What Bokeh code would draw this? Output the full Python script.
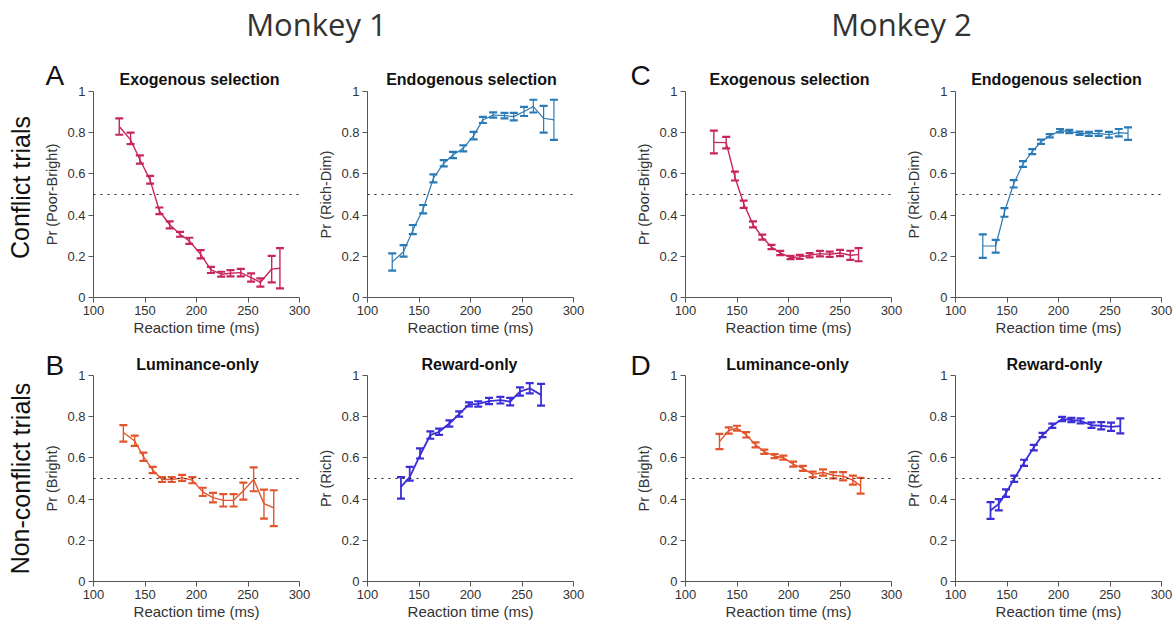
from bokeh.plotting import figure
from bokeh.models import Range1d, FixedTicker, Span, Label, Whisker, TeeHead, ColumnDataSource
from bokeh.layouts import column, row
from bokeh.embed import file_html
from bokeh.resources import INLINE

# ---------------- data ----------------
x_ticks = [100, 150, 200, 250, 300]
y_ticks = [0, 0.2, 0.4, 0.6, 0.8, 1]
y_tick_labels = ["0", "0.2", "0.4", "0.6", "0.8", "1"]
chance_level = 0.5

# Monkey 1, conflict, exogenous selection: Pr (Poor-Bright)
m1_exo_rt = [125, 136, 145, 155, 164, 174, 184, 193, 204, 214, 224, 233, 243, 253, 262, 273, 281]
m1_exo_pr = [0.83, 0.765, 0.67, 0.57, 0.42, 0.353, 0.307, 0.275, 0.21, 0.134, 0.113, 0.118, 0.121, 0.097, 0.073, 0.138, 0.142]
m1_exo_up = [0.87, 0.80, 0.69, 0.59, 0.437, 0.37, 0.319, 0.29, 0.23, 0.149, 0.125, 0.133, 0.139, 0.117, 0.093, 0.202, 0.24]
m1_exo_lo = [0.79, 0.745, 0.65, 0.553, 0.405, 0.336, 0.295, 0.26, 0.19, 0.119, 0.101, 0.103, 0.103, 0.077, 0.053, 0.073, 0.044]

# Monkey 1, conflict, endogenous selection: Pr (Rich-Dim)
m1_endo_rt = [124, 135, 144, 154, 164, 174, 183, 193, 203, 212, 222, 233, 242, 252, 261, 271, 281]
m1_endo_pr = [0.173, 0.222, 0.327, 0.428, 0.579, 0.652, 0.692, 0.724, 0.786, 0.862, 0.886, 0.883, 0.878, 0.903, 0.927, 0.87, 0.862]
m1_endo_up = [0.214, 0.254, 0.352, 0.449, 0.598, 0.667, 0.707, 0.739, 0.804, 0.877, 0.899, 0.896, 0.896, 0.925, 0.96, 0.93, 0.96]
m1_endo_lo = [0.13, 0.198, 0.308, 0.408, 0.559, 0.637, 0.677, 0.709, 0.768, 0.847, 0.873, 0.870, 0.860, 0.881, 0.898, 0.80, 0.765]

# Monkey 2, conflict, exogenous selection
m2_exo_rt = [127.5, 139.5, 148, 156.5, 165.5, 174.5, 183.5, 192, 202, 211, 220.5, 230.5, 240, 250, 260, 268]
m2_exo_pr = [0.753, 0.752, 0.584, 0.455, 0.355, 0.293, 0.245, 0.216, 0.194, 0.197, 0.205, 0.213, 0.21, 0.216, 0.205, 0.208]
m2_exo_up = [0.81, 0.78, 0.611, 0.47, 0.37, 0.305, 0.255, 0.226, 0.202, 0.207, 0.215, 0.226, 0.223, 0.231, 0.227, 0.24]
m2_exo_lo = [0.70, 0.724, 0.568, 0.435, 0.34, 0.281, 0.235, 0.206, 0.186, 0.187, 0.195, 0.2, 0.197, 0.201, 0.183, 0.176]

# Monkey 2, conflict, endogenous selection
m2_endo_rt = [126.5, 139, 147.5, 156.5, 165.5, 174.5, 183, 191.5, 201.5, 210.5, 220.5, 229.5, 239, 249, 258.5, 267.5]
m2_endo_pr = [0.25, 0.25, 0.415, 0.552, 0.648, 0.708, 0.756, 0.785, 0.81, 0.806, 0.797, 0.794, 0.797, 0.79, 0.80, 0.797]
m2_endo_up = [0.306, 0.28, 0.434, 0.570, 0.662, 0.72, 0.766, 0.793, 0.818, 0.814, 0.805, 0.804, 0.809, 0.804, 0.818, 0.826]
m2_endo_lo = [0.192, 0.218, 0.392, 0.534, 0.634, 0.696, 0.746, 0.777, 0.802, 0.798, 0.789, 0.784, 0.785, 0.776, 0.782, 0.765]

# Monkey 1, non-conflict, luminance-only: Pr (Bright)
m1_lum_rt = [129, 140, 148.5, 157.5, 166.5, 176, 186, 196, 206, 216, 226, 236, 245.5, 255.5, 265.5, 275]
m1_lum_pr = [0.723, 0.682, 0.606, 0.541, 0.495, 0.495, 0.503, 0.492, 0.435, 0.407, 0.394, 0.394, 0.44, 0.495, 0.378, 0.357]
m1_lum_up = [0.759, 0.708, 0.626, 0.556, 0.507, 0.507, 0.518, 0.507, 0.455, 0.43, 0.424, 0.424, 0.48, 0.554, 0.446, 0.443]
m1_lum_lo = [0.679, 0.658, 0.586, 0.526, 0.483, 0.483, 0.488, 0.477, 0.415, 0.384, 0.364, 0.364, 0.397, 0.438, 0.305, 0.269]

# Monkey 1, non-conflict, reward-only: Pr (Rich)
m1_rew_rt = [132.5, 141, 151, 161, 169.5, 179.5, 189, 198.5, 207.5, 218, 229, 238.5, 248, 257.5, 268.5]
m1_rew_pr = [0.459, 0.507, 0.613, 0.711, 0.727, 0.767, 0.813, 0.86, 0.862, 0.876, 0.88, 0.873, 0.922, 0.938, 0.906]
m1_rew_up = [0.507, 0.556, 0.646, 0.729, 0.742, 0.782, 0.826, 0.87, 0.875, 0.891, 0.896, 0.891, 0.942, 0.963, 0.959]
m1_rew_lo = [0.402, 0.49, 0.597, 0.693, 0.712, 0.752, 0.80, 0.85, 0.849, 0.861, 0.864, 0.855, 0.902, 0.913, 0.854]

# Monkey 2, non-conflict, luminance-only
m2_lum_rt = [133, 142, 150, 159, 168, 176.5, 186.5, 195, 204.5, 214, 223.5, 233.5, 243.5, 253, 262.5, 270]
m2_lum_pr = [0.679, 0.733, 0.744, 0.712, 0.663, 0.63, 0.609, 0.601, 0.57, 0.549, 0.52, 0.529, 0.516, 0.511, 0.492, 0.464]
m2_lum_up = [0.717, 0.748, 0.756, 0.725, 0.675, 0.64, 0.619, 0.611, 0.582, 0.561, 0.533, 0.544, 0.531, 0.531, 0.514, 0.503]
m2_lum_lo = [0.643, 0.718, 0.732, 0.699, 0.651, 0.62, 0.599, 0.591, 0.558, 0.537, 0.507, 0.514, 0.501, 0.491, 0.47, 0.427]

# Monkey 2, non-conflict, reward-only
m2_rew_rt = [134, 142, 149, 157, 166.5, 176, 184.5, 194, 203.5, 212.5, 221.5, 232, 241.5, 251, 260]
m2_rew_pr = [0.345, 0.377, 0.429, 0.499, 0.576, 0.65, 0.711, 0.756, 0.789, 0.784, 0.78, 0.759, 0.756, 0.751, 0.754]
m2_rew_up = [0.385, 0.40, 0.447, 0.514, 0.591, 0.663, 0.721, 0.766, 0.799, 0.794, 0.792, 0.772, 0.774, 0.771, 0.792]
m2_rew_lo = [0.304, 0.345, 0.411, 0.484, 0.561, 0.637, 0.701, 0.746, 0.779, 0.774, 0.768, 0.746, 0.738, 0.731, 0.719]

monkey_titles = ["Monkey 1", "Monkey 2"]
row_titles = ["Conflict trials", "Non-conflict trials"]
top_titles = ["Exogenous selection", "Endogenous selection", "Exogenous selection", "Endogenous selection"]
bottom_titles = ["Luminance-only", "Reward-only", "Luminance-only", "Reward-only"]
letters_top = ["A", "C"]
letters_bottom = ["B", "D"]

# ---------------- style / layout geometry (page pixels) ----------------
FONT = "Liberation Sans"
C_EXO = "#C8255E"
C_ENDO = "#2A7AB6"
C_LUM = "#E2552C"
C_REW = "#3A2ED6"
AXIS_C = "#555555"
TEXT_C = "#333333"
INK = "#111111"
FRAME = 206
PAGE_W, PAGE_H = 1174, 623
FRAME_X = [93, 365, 683, 950]     # left edge of each plot frame
LETTER_X = [45, 630]              # left edge of the panel letters
ROW1_TOP, ROW1_BOT = 91, 42
ROW2_TOP, ROW2_BOT = 36, 42
BORDERS = [(93, 16), (50, 19), (93, 12), (49, 18)]   # left/right borders per column


def panel(rt, pr, up, lo, color, ylabel, border, top, bottom, lw=1.4):
    left, right = border
    p = figure(frame_width=FRAME, frame_height=FRAME,
               x_range=Range1d(100, 300), y_range=Range1d(0, 1),
               min_border_left=left, min_border_right=right,
               min_border_top=top, min_border_bottom=bottom,
               output_backend="svg", toolbar_location=None, tools="")
    p.outline_line_color = None
    p.grid.visible = False

    for ax in (p.xaxis[0], p.yaxis[0]):
        ax.axis_line_color = AXIS_C
        ax.major_tick_line_color = AXIS_C
        ax.minor_tick_line_color = None
        ax.major_tick_out = 5
        ax.major_tick_in = 0
        ax.major_label_text_font = FONT
        ax.major_label_text_font_size = "13px"
        ax.major_label_text_color = TEXT_C
        ax.axis_label_text_font = FONT
        ax.axis_label_text_font_style = "normal"
        ax.axis_label_text_color = TEXT_C
    p.xaxis.ticker = FixedTicker(ticks=x_ticks)
    p.yaxis.ticker = FixedTicker(ticks=y_ticks)
    p.yaxis.major_label_overrides = dict(zip(y_ticks, y_tick_labels))
    p.xaxis.major_label_standoff = 3
    p.yaxis.major_label_standoff = 3
    p.xaxis.axis_label = "Reaction time (ms)"
    p.xaxis.axis_label_text_font_size = "15px"
    p.xaxis.axis_label_standoff = 1
    p.yaxis.axis_label = ylabel
    p.yaxis.axis_label_text_font_size = "14.5px"
    p.yaxis.axis_label_standoff = 4

    p.add_layout(Span(location=chance_level, dimension="width", line_color="#222222",
                      line_width=1.2, line_dash="2 5"))

    src = ColumnDataSource(dict(rt=rt, pr=pr, up=up, lo=lo))
    p.line("rt", "pr", source=src, line_color=color, line_width=lw)
    p.add_layout(Whisker(base="rt", upper="up", lower="lo", source=src,
                         line_color=color, line_width=lw,
                         upper_head=TeeHead(size=8, line_color=color, line_width=2.2),
                         lower_head=TeeHead(size=8, line_color=color, line_width=2.2)))
    return p


a1 = panel(m1_exo_rt, m1_exo_pr, m1_exo_up, m1_exo_lo, C_EXO, "Pr (Poor-Bright)", BORDERS[0], ROW1_TOP, ROW1_BOT)
a2 = panel(m1_endo_rt, m1_endo_pr, m1_endo_up, m1_endo_lo, C_ENDO, "Pr (Rich-Dim)", BORDERS[1], ROW1_TOP, ROW1_BOT, lw=1.2)
c1 = panel(m2_exo_rt, m2_exo_pr, m2_exo_up, m2_exo_lo, C_EXO, "Pr (Poor-Bright)", BORDERS[2], ROW1_TOP, ROW1_BOT)
c2 = panel(m2_endo_rt, m2_endo_pr, m2_endo_up, m2_endo_lo, C_ENDO, "Pr (Rich-Dim)", BORDERS[3], ROW1_TOP, ROW1_BOT, lw=1.2)

b1 = panel(m1_lum_rt, m1_lum_pr, m1_lum_up, m1_lum_lo, C_LUM, "Pr (Bright)", BORDERS[0], ROW2_TOP, ROW2_BOT)
b2 = panel(m1_rew_rt, m1_rew_pr, m1_rew_up, m1_rew_lo, C_REW, "Pr (Rich)", BORDERS[1], ROW2_TOP, ROW2_BOT, lw=1.8)
d1 = panel(m2_lum_rt, m2_lum_pr, m2_lum_up, m2_lum_lo, C_LUM, "Pr (Bright)", BORDERS[2], ROW2_TOP, ROW2_BOT)
d2 = panel(m2_rew_rt, m2_rew_pr, m2_rew_up, m2_rew_lo, C_REW, "Pr (Rich)", BORDERS[3], ROW2_TOP, ROW2_BOT, lw=1.8)

row1_frame_top = ROW1_TOP
row2_frame_top = ROW1_TOP + FRAME + ROW1_BOT + ROW2_TOP

# transparent full-page overlay holding the free texts; its data space is page pixels
ov = figure(width=PAGE_W, height=PAGE_H, x_range=Range1d(0, PAGE_W), y_range=Range1d(PAGE_H, 0),
            min_border=0, output_backend="svg", toolbar_location=None, tools="",
            x_axis_type=None, y_axis_type=None)
ov.outline_line_color = None
ov.grid.visible = False
ov.background_fill_color = None
ov.border_fill_color = None
ov.styles = {"position": "absolute", "top": "0px", "left": "0px", "pointer-events": "none"}


def text(x, y, t, size, align="center", bold=False, font=FONT, color=INK, angle=0):
    ov.add_layout(Label(x=x, y=y, text=t, text_align=align, text_baseline="middle",
                        text_font=font, text_font_size=size, angle=angle,
                        text_font_style="bold" if bold else "normal", text_color=color))


# y values are the vertical centres of the capital letters
for t, cx in zip(monkey_titles, (316, 901)):
    text(cx, 23, t, "31px", font="Open Sans", color="#333333")
for t, lx in zip(letters_top, LETTER_X):
    text(lx, row1_frame_top - 16, t, "28px", align="left")
for t, fx in zip(top_titles, FRAME_X):
    text(fx + FRAME / 2 + 3, row1_frame_top - 12.5, t, "16px", bold=True)
for t, lx in zip(letters_bottom, LETTER_X):
    text(lx, row2_frame_top - 10, t, "28px", align="left")
for t, fx in zip(bottom_titles, FRAME_X):
    text(fx + FRAME / 2 + 1, row2_frame_top - 11, t, "16px", bold=True)
for t, cy in zip(row_titles, (row1_frame_top + FRAME / 2 - 7, row2_frame_top + FRAME / 2)):
    text(20, cy, t, "25px", angle=1.5707963)

layout = column(row(a1, a2, c1, c2), row(b1, b2, d1, d2), ov)

open("out.html", "w").write(file_html(layout, INLINE))
